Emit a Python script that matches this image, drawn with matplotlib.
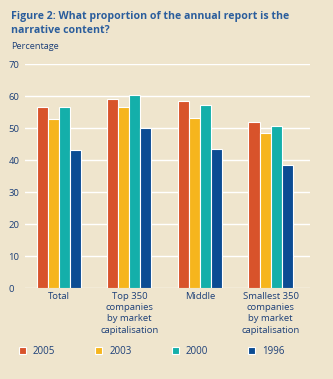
import numpy as np
import matplotlib.pyplot as plt

# values
categories = ['Total', 'Top 350\ncompanies\nby market\ncapitalisation', 'Middle',
              'Smallest 350\ncompanies\nby market\ncapitalisation']
years = ['2005', '2003', '2000', '1996']
v2005 = [56.5, 59.2, 58.6, 52.0]
v2003 = [52.7, 56.7, 53.0, 48.3]
v2000 = [56.5, 60.2, 57.1, 50.7]
v1996 = [43.0, 50.1, 43.6, 38.5]

colors = ['#D8532B', '#F6B51D', '#14AFAA', '#0B4C93']
bg = '#EFE5CD'
txt = '#1C3F78'

plt.rcParams['font.family'] = ['Open Sans', 'DejaVu Sans']

fig = plt.figure(figsize=(3.33, 3.79), dpi=100, facecolor=bg)
ax = fig.add_axes([0.075, 0.240, 0.856, 0.591], facecolor=bg)

x = np.arange(len(categories))
w = 0.156
series = [v2005, v2003, v2000, v1996]
for i, vals in enumerate(series):
    ax.bar(x + (i - 1.5) * w, vals, w, color=colors[i], edgecolor='white',
           linewidth=0.8, label=years[i], zorder=3)

ax.set_ylim(0, 70)
ax.set_xlim(-0.48, 3.56)
ax.set_yticks(range(0, 71, 10))
ax.yaxis.grid(True, color='white', linewidth=1.0, zorder=0)
for s in ax.spines.values():
    s.set_visible(False)
ax.tick_params(axis='both', length=0, labelsize=6.8, colors=txt, pad=3)
ax.tick_params(axis='y', pad=12)
for lab in ax.get_yticklabels():
    lab.set_horizontalalignment('left')
ax.set_xticks(x)
ax.set_xticklabels(categories, linespacing=1.3)

fig.text(0.033, 0.972, 'Figure 2: What proportion of the annual report is the\nnarrative content?',
         fontsize=7.6, fontweight='bold', color='#2A5D9C', va='top', ha='left',
         linespacing=1.45)
fig.text(0.033, 0.877, 'Percentage', fontsize=6.6, color=txt, va='center', ha='left')

fig.legend(loc='center left', bbox_to_anchor=(0.045, 0.072), ncol=4, frameon=False,
           fontsize=7, labelcolor=txt, handlelength=0.75, handleheight=0.75,
           handletextpad=0.7, columnspacing=4.1, borderaxespad=0)

fig.savefig('out.png', dpi=100, facecolor=bg)
